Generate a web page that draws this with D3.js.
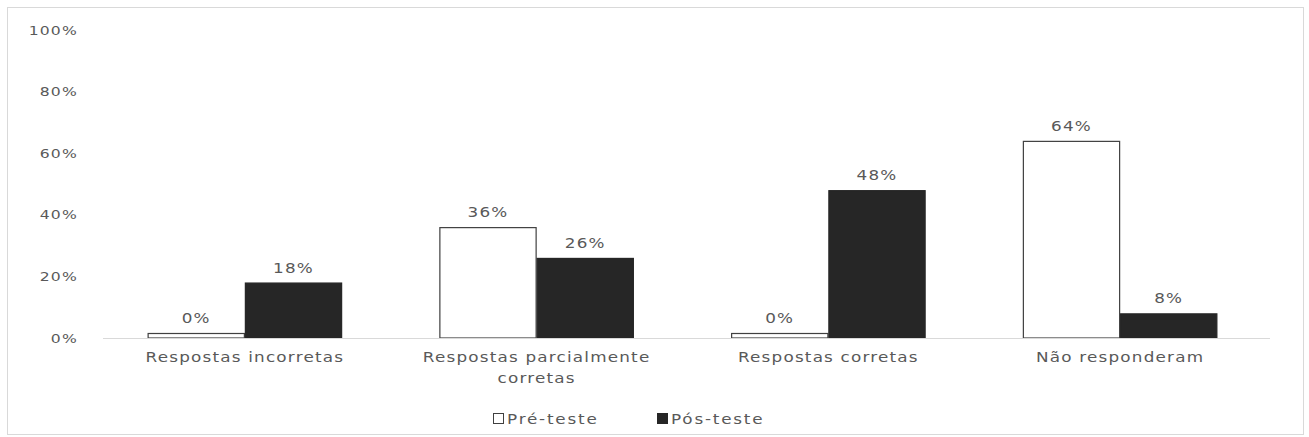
<!DOCTYPE html>
<html>
<head>
<meta charset="utf-8">
<script src="https://cdn.jsdelivr.net/npm/d3@7"></script>
<style>
  body { margin: 0; background: #fff; }
  text { font-family: "DejaVu Sans", "Open Sans", sans-serif; fill: #595959; letter-spacing: 1px; }
</style>
</head>
<body>
<div id="chart"></div>
<script>
// data
var categories = ["Respostas incorretas", "Respostas parcialmente corretas", "Respostas corretas", "Não responderam"];
var preTeste = [0, 36, 0, 64];
var posTeste = [18, 26, 48, 8];
var seriesNames = ["Pré-teste", "Pós-teste"];
var yTicks = [0, 20, 40, 60, 80, 100];

var W = 1309, H = 437;
var margin = {top: 30, right: 43, bottom: 99, left: 99};
var width = W - margin.left - margin.right,
    height = H - margin.top - margin.bottom;
var stretch = 1.2; // the source text looks horizontally stretched

var svg = d3.select("#chart").append("svg")
    .attr("width", W)
    .attr("height", H);

// outer frame
svg.append("rect")
    .attr("x", 7.5).attr("y", 7.5)
    .attr("width", 1296).attr("height", 427)
    .attr("fill", "#fff")
    .attr("stroke", "#d9d9d9");

var g = svg.append("g")
    .attr("transform", "translate(" + margin.left + "," + margin.top + ")");

var x0 = d3.scaleBand().domain(categories).range([0, width]).paddingInner(1/3).paddingOuter(1/6);
var x1 = d3.scaleBand().domain(seriesNames).range([0, x0.bandwidth()]);
var y = d3.scaleLinear().domain([0, 100]).range([height, 0]);

var series = [
  {name: seriesNames[0], values: preTeste, fill: "#fff", stroke: "#404040"},
  {name: seriesNames[1], values: posTeste, fill: "#262626", stroke: "#262626"}
];

// places a stretched text at (x,y)
function label(parent, x, y, str, anchor, size) {
  return parent.append("g")
    .attr("transform", "translate(" + x + "," + y + ")")
    .append("text")
    .attr("transform", "scale(" + stretch + ",1)")
    .attr("text-anchor", anchor)
    .style("font-size", size + "px")
    .text(str);
}

// y axis labels
yTicks.forEach(function(d) {
  label(g, -21, y(d) + 4.5, d + "%", "end", 13);
});

// bars
series.forEach(function(s) {
  var bars = g.append("g");
  bars.selectAll("rect")
      .data(s.values)
      .enter().append("rect")
      .attr("x", function(d, i) { return x0(categories[i]) + x1(s.name) + 0.5; })
      .attr("y", function(d) { return Math.min(y(d), height - 5) + 0.5; })
      .attr("width", x1.bandwidth() - 1)
      .attr("height", function(d) { return Math.max(height - y(d), 5) - 0.5; })
      .attr("fill", s.fill)
      .attr("stroke", s.stroke)
      .attr("stroke-width", 1.2);

  s.values.forEach(function(d, i) {
    label(bars, x0(categories[i]) + x1(s.name) + x1.bandwidth() / 2,
          Math.min(y(d), height - 5) - 10, d + "%", "middle", 14);
  });
});

// base line
g.append("line")
    .attr("x1", 4).attr("x2", width + 4)
    .attr("y1", height + 0.5).attr("y2", height + 0.5)
    .attr("stroke", "#d9d9d9");

// category labels, wrapped like the original
var wrapped = {"Respostas parcialmente corretas": ["Respostas parcialmente", "corretas"]};
categories.forEach(function(c) {
  var lines = wrapped[c] || [c];
  lines.forEach(function(l, i) {
    label(g, x0(c) + x0.bandwidth() / 2, height + 24 + i * 21, l, "middle", 14);
  });
});

// legend
var legend = svg.append("g").attr("transform", "translate(493,419)");
var lx = [0, 164];
series.forEach(function(s, i) {
  var lg = legend.append("g").attr("transform", "translate(" + lx[i] + ",0)");
  lg.append("rect")
    .attr("x", 0.5).attr("y", -5.5)
    .attr("width", 10).attr("height", 10)
    .attr("fill", s.fill)
    .attr("stroke", s.stroke);
  label(lg, 14, 5, s.name, "start", 14).style("letter-spacing", "1.5px");
});
</script>
</body>
</html>
